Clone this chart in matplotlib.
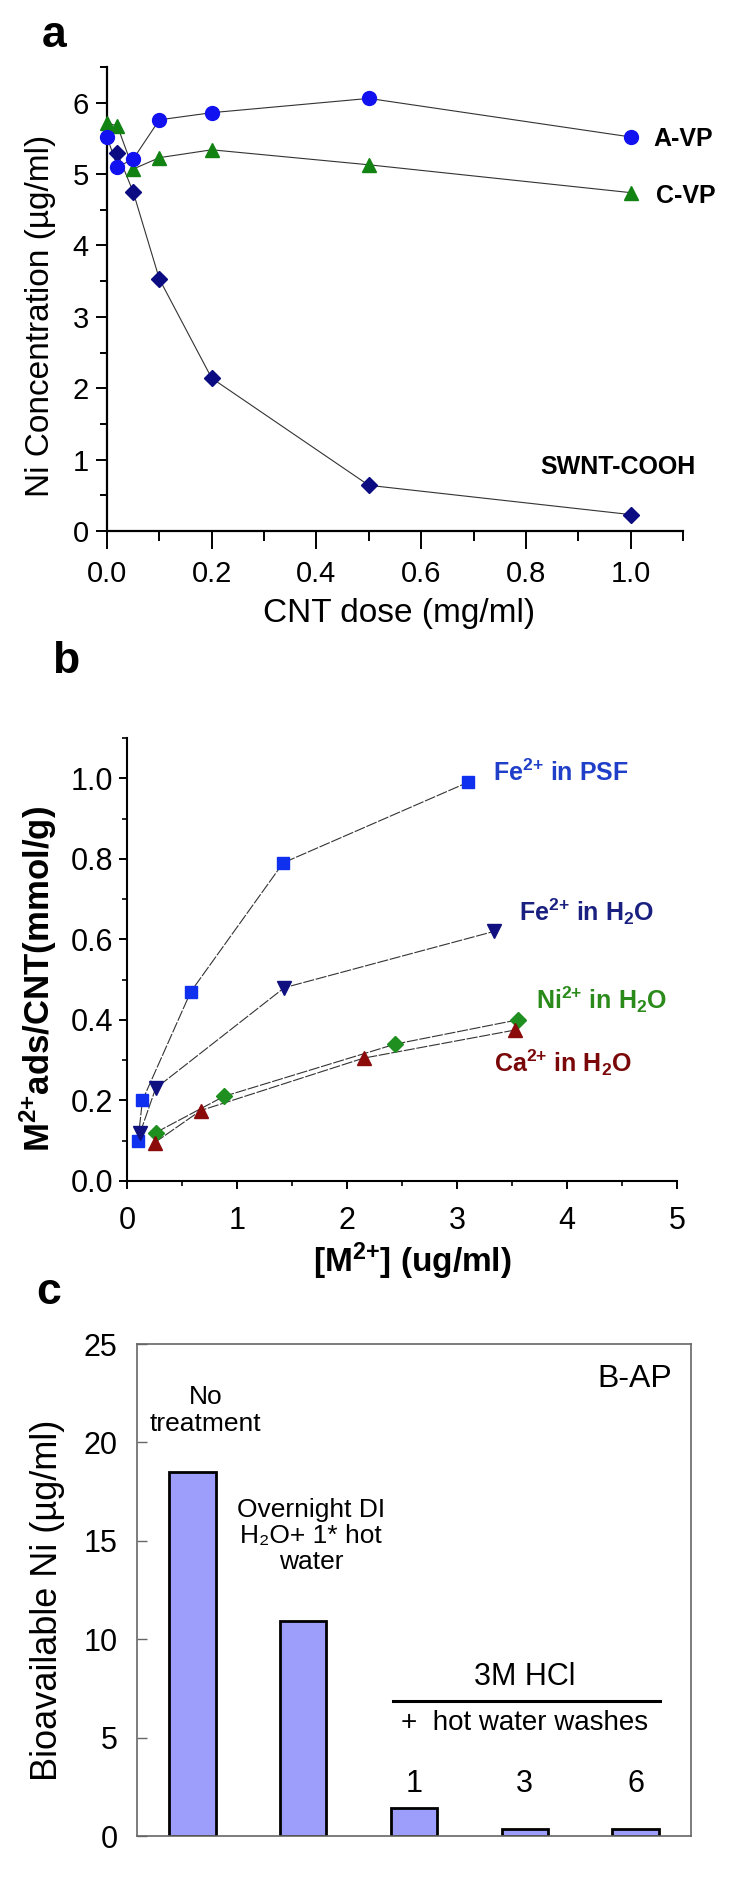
import matplotlib
matplotlib.use('Agg')
import matplotlib.pyplot as plt
from matplotlib.ticker import MultipleLocator

plt.rcParams['font.family'] = ['Liberation Sans', 'DejaVu Sans']
plt.rcParams['mathtext.fontset'] = 'custom'
plt.rcParams['mathtext.rm'] = 'Liberation Sans:bold'
plt.rcParams['mathtext.bf'] = 'Liberation Sans:bold'
plt.rcParams['mathtext.it'] = 'Liberation Sans:bold'
plt.rcParams['mathtext.default'] = 'rm'

# ---------------- data ----------------
# panel a
dose = [0, 0.02, 0.05, 0.1, 0.2, 0.5, 1.0]
avp = [5.52, 5.10, 5.21, 5.76, 5.86, 6.06, 5.52]
cvp = [5.72, 5.67, 5.07, 5.23, 5.34, 5.13, 4.74]
swnt_dose = [0.02, 0.05, 0.1, 0.2, 0.5, 1.0]
swnt = [5.29, 4.75, 3.53, 2.14, 0.64, 0.23]

# panel b
fe_psf_x = [0.10, 0.14, 0.58, 1.42, 3.10]
fe_psf_y = [0.10, 0.20, 0.47, 0.79, 0.99]
fe_h2o_x = [0.12, 0.26, 1.43, 3.34]
fe_h2o_y = [0.12, 0.23, 0.48, 0.62]
ni_x = [0.26, 0.88, 2.44, 3.55]
ni_y = [0.12, 0.21, 0.34, 0.40]
ca_x = [0.25, 0.67, 2.15, 3.53]
ca_y = [0.095, 0.175, 0.305, 0.375]

# panel c
treatments = ['No treatment', 'Overnight DI', 'HCl 1', 'HCl 3', 'HCl 6']
bioavail = [18.5, 10.9, 1.4, 0.35, 0.35]
wash_labels = ['1', '3', '6']

W, H = 750, 1886
fig = plt.figure(figsize=(W / 100, H / 100), dpi=100)


def box(l, t, r, b):
    return [l / W, 1 - b / H, (r - l) / W, (b - t) / H]


def fx(x):
    return x / W


def fy(y):
    return 1 - y / H


LINE = '#333333'

# ---------------- panel a ----------------
ax = fig.add_axes(box(107, 67, 683, 531))
ax.plot(dose, avp, color=LINE, lw=0.8, zorder=1)
ax.plot(dose, cvp, color=LINE, lw=0.8, zorder=1)
ax.plot(swnt_dose, swnt, color=LINE, lw=0.8, zorder=1)
ax.plot(dose, cvp, ls='none', marker='^', ms=10, color='#128212', mec='#128212', zorder=3, clip_on=False)
ax.plot(swnt_dose, swnt, ls='none', marker='D', ms=8.5, color='#0c0c82', mec='#0c0c82', zorder=4, clip_on=False)
ax.plot(dose, avp, ls='none', marker='o', ms=10, color='#1212f0', mec='#1212f0', zorder=5, clip_on=False)
ax.set_xlim(0, 1.1)
ax.set_ylim(0, 6.5)
for s in ['top', 'right']:
    ax.spines[s].set_visible(False)
for s in ['left', 'bottom']:
    ax.spines[s].set_linewidth(1.6)
ax.xaxis.set_major_locator(MultipleLocator(0.2))
ax.xaxis.set_minor_locator(MultipleLocator(0.1))
ax.yaxis.set_major_locator(MultipleLocator(1))
ax.yaxis.set_minor_locator(MultipleLocator(0.5))
ax.set_xticks([0, 0.2, 0.4, 0.6, 0.8, 1.0])
ax.set_xticklabels(['0.0', '0.2', '0.4', '0.6', '0.8', '1.0'])
ax.tick_params(axis='x', which='major', direction='out', length=13, width=1.4, labelsize=21, pad=8)
ax.tick_params(axis='x', which='minor', direction='out', length=7.5, width=1.4)
ax.tick_params(axis='y', which='major', direction='out', length=8, width=1.4, labelsize=21, pad=5)
ax.tick_params(axis='y', which='minor', direction='out', length=5, width=1.4)
ax.set_xlabel('CNT dose (mg/ml)', fontsize=24, va='center')
ax.xaxis.set_label_coords(0.507, -0.177)
ax.set_ylabel('Ni Concentration (\u00b5g/ml)', fontsize=24, va='center')
ax.yaxis.set_label_coords(-0.116, 0.463)
ax.text(1.044, 5.49, 'A-VP', fontsize=18, fontweight='bold', ha='left', va='center', clip_on=False)
ax.text(1.048, 4.69, 'C-VP', fontsize=18, fontweight='bold', ha='left', va='center', clip_on=False)
ax.text(0.975, 0.9, 'SWNT-COOH', fontsize=18, fontweight='bold', ha='center', va='center')
fig.text(fx(42), fy(47), 'a', fontsize=32, fontweight='bold', ha='left', va='baseline')

# ---------------- panel b ----------------
bx = fig.add_axes(box(127, 738, 677, 1181))
dash = (0, (10, 1.5))
bx.plot(fe_psf_x, fe_psf_y, color=LINE, lw=0.8, ls=dash, zorder=1)
bx.plot(fe_h2o_x, fe_h2o_y, color=LINE, lw=0.8, ls=dash, zorder=1)
bx.plot(ni_x, ni_y, color=LINE, lw=0.8, ls=dash, zorder=1)
bx.plot(ca_x, ca_y, color=LINE, lw=0.8, ls=dash, zorder=1)
bx.plot(fe_psf_x, fe_psf_y, ls='none', marker='s', ms=8.5, color='#1030f0', mec='#1030f0', zorder=3)
bx.plot(fe_h2o_x, fe_h2o_y, ls='none', marker='v', ms=10, color='#101080', mec='#101080', zorder=3)
bx.plot(ni_x, ni_y, ls='none', marker='D', ms=8, color='#1f8f1f', mec='#1f8f1f', zorder=3)
bx.plot(ca_x, ca_y, ls='none', marker='^', ms=10, color='#8b0a0a', mec='#8b0a0a', zorder=3)
bx.set_xlim(0, 5)
bx.set_ylim(0, 1.1)
for s in ['top', 'right']:
    bx.spines[s].set_visible(False)
for s in ['left', 'bottom']:
    bx.spines[s].set_linewidth(1.5)
bx.xaxis.set_major_locator(MultipleLocator(1))
bx.xaxis.set_minor_locator(MultipleLocator(0.5))
bx.set_yticks([0, 0.2, 0.4, 0.6, 0.8, 1.0])
bx.set_yticklabels(['0.0', '0.2', '0.4', '0.6', '0.8', '1.0'])
bx.yaxis.set_minor_locator(MultipleLocator(0.1))
bx.tick_params(axis='both', which='major', direction='out', length=6, width=1.4, labelsize=22)
bx.tick_params(axis='both', which='minor', direction='out', length=3.5, width=1.2)
bx.tick_params(axis='x', which='major', pad=12)
bx.tick_params(axis='y', which='major', pad=4)
bx.set_xlabel(r'[M$^{\mathbf{2{+}}}$] (ug/ml)', fontsize=24, fontweight='bold', va='center')
bx.xaxis.set_label_coords(0.518, -0.182)
bx.set_ylabel(r'M$^{\mathbf{2{+}}}$ads/CNT(mmol/g)', fontsize=25, fontweight='bold', va='center')
bx.yaxis.set_label_coords(-0.162, 0.455)
bx.text(3.33, 1.014, r'Fe$^{\mathbf{2{+}}}$ in PSF', fontsize=18, fontweight='bold', color='#1f3fc8', ha='left', va='center')
bx.text(3.56, 0.668, r'Fe$^{\mathbf{2{+}}}$ in H$_{\mathbf{2}}$O', fontsize=18, fontweight='bold', color='#1a2080', ha='left', va='center')
bx.text(3.72, 0.45, r'Ni$^{\mathbf{2{+}}}$ in H$_{\mathbf{2}}$O', fontsize=18, fontweight='bold', color='#2a8a1a', ha='left', va='center')
bx.text(3.34, 0.293, r'Ca$^{\mathbf{2{+}}}$ in H$_{\mathbf{2}}$O', fontsize=18, fontweight='bold', color='#7a0808', ha='left', va='center')
fig.text(fx(52), fy(673), 'b', fontsize=32, fontweight='bold', ha='left', va='baseline')

# ---------------- panel c ----------------
cx = fig.add_axes(box(137, 1344, 691, 1836))
xpos = list(range(len(bioavail)))
cx.bar(xpos, bioavail, width=0.42, color='#9d9dfb', edgecolor='black', linewidth=2.0, zorder=2)
cx.set_xlim(-0.5, 4.5)
cx.set_ylim(0, 25)
cx.set_xticks([])
cx.yaxis.set_major_locator(MultipleLocator(5))
for s in cx.spines.values():
    s.set_color('#666666')
    s.set_linewidth(1.2)
cx.tick_params(axis='y', which='major', direction='in', length=7, width=1, color='#666666',
               labelsize=22, pad=14)
cx.set_ylabel('Bioavailable Ni (\u00b5g/ml)', fontsize=26, va='center')
cx.yaxis.set_label_coords(-0.162, 0.48)
cx.text(0.12, 21.6, 'No\ntreatment', fontsize=19, ha='center', va='center', linespacing=1.15)
cx.text(1.07, 15.25, 'Overnight DI\nH\u2082O+ 1* hot\nwater', fontsize=19, ha='center', va='center',
        linespacing=1.1)
cx.text(3.0, 8.08, '3M HCl', fontsize=22, ha='center', va='center')
cx.plot([1.806, 4.22], [6.86, 6.86], color='black', lw=2.2)
cx.text(3.0, 5.74, '+  hot water washes', fontsize=20, ha='center', va='center')
for xi, lab in zip(xpos[2:], wash_labels):
    cx.text(xi, 2.64, lab, fontsize=22, ha='center', va='center')
cx.text(4.33, 23.2, 'B-AP', fontsize=23, ha='right', va='center')
fig.text(fx(36), fy(1304), 'c', fontsize=32, fontweight='bold', ha='left', va='baseline')

fig.savefig('out.png', dpi=100)
